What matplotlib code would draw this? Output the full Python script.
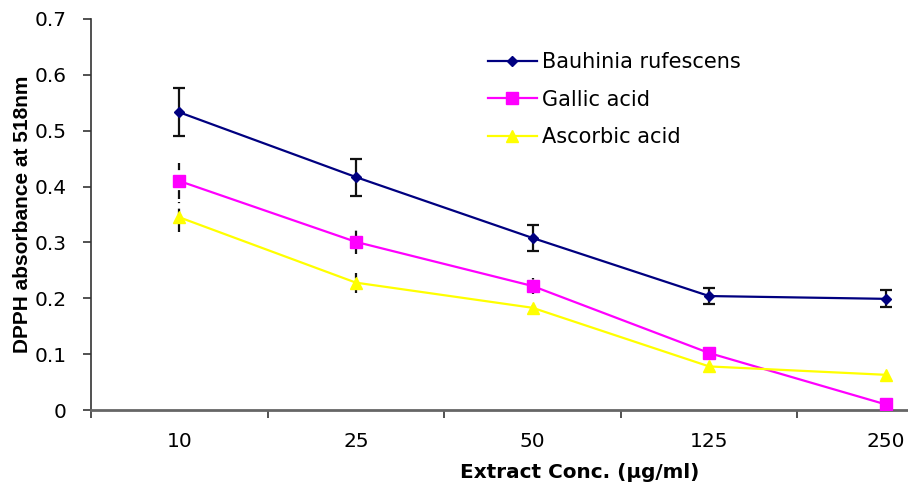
import numpy as np
import matplotlib
matplotlib.use('Agg')
import matplotlib.pyplot as plt

plt.rcParams['font.family'] = ['DejaVu Sans']

# data
concs = ['10', '25', '50', '125', '250']
bauhinia = [0.533, 0.417, 0.308, 0.204, 0.199]
bauhinia_err = [0.043, 0.033, 0.024, 0.015, 0.015]
gallic = [0.410, 0.301, 0.222, 0.102, 0.010]
gallic_err = [0.033, 0.022, 0.015, 0.0, 0.0]
ascorbic = [0.345, 0.228, 0.183, 0.078, 0.063]
ascorbic_err = [0.027, 0.018, 0.012, 0.0, 0.0]

fig = plt.figure(figsize=(9.08, 4.84), dpi=100)
ax = fig.add_axes([91 / 908, 74 / 484, 817 / 908, 391 / 484])

x = np.arange(len(concs))

# error bars (drawn first, under the lines)
ax.errorbar(x, bauhinia, yerr=bauhinia_err, fmt='none', ecolor='#111111',
            elinewidth=1.6, capsize=4, capthick=1.6, zorder=2)
for vals, errs in [(gallic, gallic_err), (ascorbic, ascorbic_err)]:
    eb = ax.errorbar(x, vals, yerr=errs, fmt='none', ecolor='#111111',
                     elinewidth=1.6, capsize=0, zorder=2)
    eb[2][0].set_linestyle((0, (4, 2.5)))

ax.plot(x, bauhinia, color='#000080', lw=1.6, marker='D', ms=5.5,
        label='Bauhinia rufescens', zorder=3)
ax.plot(x, gallic, color='#FF00FF', lw=1.6, marker='s', ms=8,
        label='Gallic acid', zorder=3)
ax.plot(x, ascorbic, color='#FFFF00', lw=1.6, marker='^', ms=9,
        label='Ascorbic acid', zorder=3)

ax.set_xlim(-0.5, 4.126)
ax.set_ylim(0, 0.7)
ax.set_yticks(np.arange(0, 0.71, 0.1))
ax.set_yticklabels(['0'] + [f'{v:.1f}' for v in np.arange(0.1, 0.71, 0.1)])
ax.set_xticks(x)
ax.set_xticklabels(concs)
ax.set_xticks(np.arange(-0.5, 4.0, 1.0), minor=True)

ax.tick_params(axis='y', direction='out', length=5.8, width=1.2,
               color='#333333', pad=11.5, labelsize=14.5)
ax.tick_params(axis='x', which='major', length=0, pad=16, labelsize=14.5)
ax.tick_params(axis='x', which='minor', direction='out', length=5.8,
               width=1.2, color='#333333')

for s in ['top', 'right']:
    ax.spines[s].set_visible(False)
ax.spines['left'].set_color('#333333')
ax.spines['left'].set_linewidth(1.2)
ax.spines['bottom'].set_color('#666666')
ax.spines['bottom'].set_linewidth(2)

ax.set_ylabel('DPPH absorbance at 518nm', fontsize=15, fontweight='bold',
              family='Liberation Sans')
ax.yaxis.set_label_coords(-0.072, 0.5)
ax.set_xlabel('Extract Conc. (µg/ml)', fontsize=14.4, fontweight='bold')
ax.xaxis.set_label_coords(0.598, -0.161)
ax.xaxis.label.set_va('center')

ax.legend(loc='upper left', bbox_to_anchor=(488 / 908, 1 - 52 / 484),
          bbox_transform=fig.transFigure, frameon=False, fontsize=15,
          borderpad=0, borderaxespad=0, handlelength=2.35,
          handletextpad=0.25, labelspacing=0.84)

fig.savefig('out.png', dpi=100)
